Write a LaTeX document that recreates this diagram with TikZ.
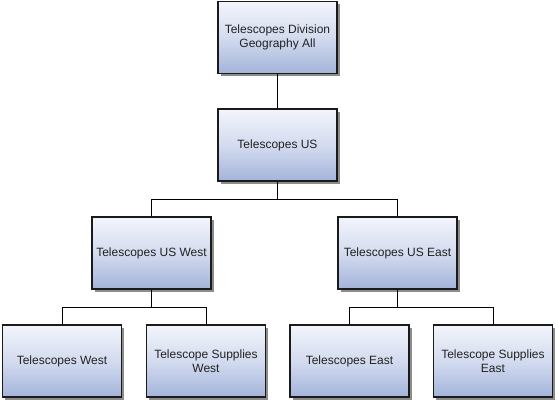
\documentclass[tikz,border=0pt]{standalone}
\usepackage{fontspec}
\setmainfont{Liberation Sans}
\usetikzlibrary{shadows}
\definecolor{boxtop}{HTML}{F3F5FC}
\definecolor{boxbot}{HTML}{A3B4DA}
\definecolor{edge}{HTML}{1A1A1A}
\definecolor{txt}{HTML}{222222}
\tikzset{
  orgbox/.style={draw=edge, line width=1.2pt, minimum width=119pt, minimum height=72pt,
    inner sep=2pt, align=center, text=txt, font=\fontsize{12}{14.5}\selectfont,
    top color=boxtop, bottom color=boxbot, middle color=boxtop!60!boxbot,
    drop shadow={shadow xshift=2.5pt, shadow yshift=-2.5pt, fill=black!45, opacity=1}},
  link/.style={draw=black, line width=1pt}
}
\begin{document}
\begin{tikzpicture}[x=1pt,y=1pt]
\useasboundingbox (0,0) rectangle (558,-402);
\node[orgbox] (top) at (277.5,-37.5) {Telescopes Division\\Geography All};
\node[orgbox] (us) at (277.5,-145) {Telescopes US};
\node[orgbox] (usw) at (151.5,-253) {Telescopes US West};
\node[orgbox] (use) at (397.5,-253) {Telescopes US East};
\node[orgbox] (tw) at (62,-361) {Telescopes West};
\node[orgbox] (tsw) at (206,-361) {Telescope Supplies\\West};
\node[orgbox] (te) at (349.5,-361) {Telescopes East};
\node[orgbox] (tse) at (493,-361) {Telescope Supplies\\East};
\coordinate (j1) at (277.5,-199);
\coordinate (j2) at (151.5,-307);
\coordinate (j3) at (397.5,-307);
\draw[link] (top.south) -- (us.north);
\draw[link] (us.south) -- (j1) -| (usw.north);
\draw[link] (j1) -| (use.north);
\draw[link] (usw.south) -- (j2) -| (tw.north);
\draw[link] (j2) -| (tsw.north);
\draw[link] (use.south) -- (j3) -| (te.north);
\draw[link] (j3) -| (tse.north);
\end{tikzpicture}
\end{document}
